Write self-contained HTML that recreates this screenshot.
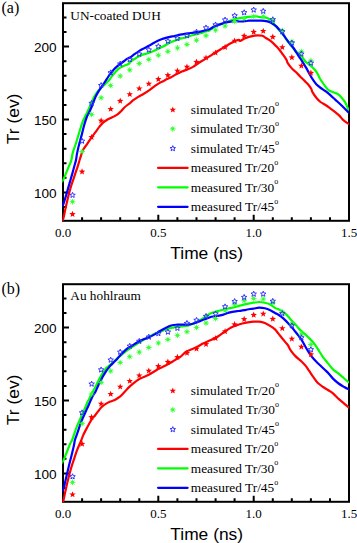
<!DOCTYPE html>
<html><head><meta charset="utf-8"><style>
html,body{margin:0;padding:0;background:#fff;}
svg{display:block;}
.se{font-family:"Liberation Serif",serif;fill:#000;}
.sa{font-family:"Liberation Sans",sans-serif;fill:#000;}
</style></head><body>
<svg width="357" height="543" viewBox="0 0 357 543">
<rect width="357" height="543" fill="#fff"/>
<rect x="63.0" y="3.2" width="286.0" height="217.60000000000002" fill="none" stroke="#000" stroke-width="2"/>
<path d="M63.0,207.0H66.5M63.0,192.4H69.0M63.0,177.8H66.5M63.0,163.2H66.5M63.0,148.7H66.5M63.0,134.1H66.5M63.0,119.5H69.0M63.0,104.9H66.5M63.0,90.3H66.5M63.0,75.8H66.5M63.0,61.2H66.5M63.0,46.6H69.0M63.0,32.0H66.5M63.0,17.4H66.5M82.1,220.8V217.3M101.1,220.8V217.3M120.2,220.8V217.3M139.3,220.8V217.3M158.3,220.8V214.8M177.4,220.8V217.3M196.5,220.8V217.3M215.6,220.8V217.3M234.6,220.8V217.3M253.7,220.8V214.8M272.8,220.8V217.3M291.8,220.8V217.3M310.9,220.8V217.3M330.0,220.8V217.3" stroke="#000" stroke-width="2" fill="none"/>
<clipPath id="c0"><rect x="62.2" y="3.2" width="286.8" height="217.90000000000003"/></clipPath>
<g clip-path="url(#c0)">
<path d="M62.00,221.00C62.23,220.55 62.88,220.08 63.40,218.30C63.92,216.52 64.52,212.97 65.10,210.30C65.68,207.63 66.23,205.17 66.90,202.30C67.57,199.43 68.35,195.97 69.10,193.10C69.85,190.23 70.63,187.57 71.40,185.10C72.17,182.63 72.93,180.58 73.70,178.30C74.47,176.02 75.27,173.60 76.00,171.40C76.73,169.20 77.42,167.25 78.10,165.10C78.78,162.95 79.30,160.97 80.10,158.50C80.90,156.03 81.68,152.78 82.90,150.30C84.12,147.82 85.90,145.83 87.40,143.60C88.90,141.37 90.55,138.80 91.90,136.90C93.25,135.00 94.33,133.78 95.50,132.20C96.67,130.62 97.68,128.95 98.90,127.40C100.12,125.85 101.48,124.13 102.80,122.90C104.12,121.67 105.48,120.82 106.80,120.00C108.12,119.18 109.40,118.65 110.70,118.00C112.00,117.35 113.30,116.83 114.60,116.10C115.90,115.37 117.35,114.50 118.50,113.60C119.65,112.70 120.52,111.71 121.50,110.70C122.48,109.69 123.42,108.47 124.40,107.52C125.38,106.57 126.47,105.72 127.40,105.00C128.33,104.28 129.13,103.92 130.00,103.20C130.87,102.48 131.23,101.75 132.60,100.70C133.97,99.65 136.33,98.05 138.20,96.90C140.07,95.75 141.93,94.94 143.80,93.81C145.67,92.68 147.53,91.42 149.40,90.10C151.27,88.78 153.13,87.18 155.00,85.90C156.87,84.62 158.83,83.42 160.60,82.40C162.37,81.38 163.93,80.62 165.60,79.80C167.27,78.98 168.83,78.42 170.60,77.50C172.37,76.58 174.33,75.30 176.20,74.30C178.07,73.30 179.93,72.32 181.80,71.50C183.67,70.68 185.53,70.17 187.40,69.40C189.27,68.63 191.13,67.95 193.00,66.90C194.87,65.85 196.73,64.32 198.60,63.10C200.47,61.88 202.33,60.77 204.20,59.60C206.07,58.43 208.00,57.27 209.80,56.10C211.60,54.93 213.23,53.70 215.00,52.60C216.77,51.50 218.33,50.75 220.40,49.50C222.47,48.25 225.30,46.35 227.40,45.10C229.50,43.85 231.13,42.87 233.00,42.00C234.87,41.13 237.43,40.08 238.60,39.90C239.77,39.72 239.02,41.12 240.00,40.90C240.98,40.68 243.00,39.27 244.50,38.60C246.00,37.93 247.52,37.37 249.00,36.90C250.48,36.43 251.92,36.07 253.40,35.80C254.88,35.53 256.40,35.30 257.90,35.30C259.40,35.30 261.05,35.35 262.40,35.80C263.75,36.25 264.95,37.35 266.00,38.00C267.05,38.65 267.80,39.08 268.70,39.70C269.60,40.32 270.50,40.97 271.40,41.70C272.30,42.43 273.20,43.25 274.10,44.10C275.00,44.95 275.92,45.85 276.80,46.80C277.68,47.75 278.52,48.68 279.40,49.80C280.28,50.92 281.20,52.27 282.10,53.50C283.00,54.73 284.02,56.02 284.80,57.20C285.58,58.38 286.33,59.67 286.80,60.60C287.27,61.53 286.77,61.50 287.60,62.80C288.43,64.10 290.57,66.98 291.80,68.40C293.03,69.82 293.90,70.27 295.00,71.30C296.10,72.33 297.28,73.48 298.40,74.60C299.52,75.72 300.58,76.87 301.70,78.00C302.82,79.13 303.98,80.28 305.10,81.40C306.22,82.52 307.38,83.48 308.40,84.70C309.42,85.92 310.52,87.47 311.20,88.70C311.88,89.93 311.62,90.55 312.50,92.10C313.38,93.65 315.17,96.35 316.50,98.00C317.83,99.65 319.00,100.83 320.50,102.00C322.00,103.17 323.88,103.95 325.50,105.00C327.12,106.05 328.58,107.12 330.20,108.30C331.82,109.48 333.63,110.83 335.20,112.10C336.77,113.37 338.33,114.65 339.60,115.90C340.87,117.15 341.43,118.35 342.80,119.60C344.17,120.85 346.60,122.58 347.80,123.40C349.00,124.22 349.63,124.32 350.00,124.50" fill="none" stroke="#ff0000" stroke-width="2.2" stroke-linejoin="round" stroke-linecap="round"/>
<path d="M62.00,181.50C62.23,181.15 62.68,180.88 63.40,179.40C64.12,177.92 65.43,174.68 66.30,172.60C67.17,170.52 68.07,168.17 68.60,166.90C69.13,165.63 69.03,166.15 69.50,165.00C69.97,163.85 70.85,162.07 71.40,160.00C71.95,157.93 72.00,155.52 72.80,152.60C73.60,149.68 75.07,146.05 76.20,142.50C77.33,138.95 78.48,134.85 79.60,131.30C80.72,127.75 81.77,124.08 82.90,121.20C84.03,118.32 85.23,116.45 86.40,114.00C87.57,111.55 88.67,109.27 89.90,106.50C91.13,103.73 92.50,99.90 93.80,97.40C95.10,94.90 96.50,93.07 97.70,91.50C98.90,89.93 99.85,89.15 101.00,88.00C102.15,86.85 103.23,85.93 104.60,84.60C105.97,83.27 107.87,81.57 109.20,80.00C110.53,78.43 111.48,76.63 112.60,75.20C113.72,73.77 114.78,72.58 115.90,71.40C117.02,70.22 118.18,68.93 119.30,68.10C120.42,67.27 121.48,66.90 122.60,66.40C123.72,65.90 124.87,65.60 126.00,65.10C127.13,64.60 128.73,63.92 129.40,63.40C130.07,62.88 129.15,62.73 130.00,62.00C130.85,61.27 133.00,60.00 134.50,59.05C136.00,58.10 137.52,57.07 139.00,56.30C140.48,55.52 141.92,54.90 143.40,54.40C144.88,53.90 146.40,53.78 147.90,53.30C149.40,52.82 150.90,52.12 152.40,51.50C153.90,50.88 155.40,50.30 156.90,49.60C158.40,48.90 159.90,48.06 161.40,47.30C162.90,46.53 164.47,45.81 165.90,45.01C167.33,44.21 168.57,43.20 170.00,42.50C171.43,41.80 173.00,41.37 174.50,40.80C176.00,40.23 177.52,39.57 179.00,39.10C180.48,38.63 181.92,38.40 183.40,38.00C184.88,37.60 186.40,37.17 187.90,36.70C189.40,36.23 190.90,35.63 192.40,35.20C193.90,34.77 195.40,34.47 196.90,34.10C198.40,33.73 200.00,33.43 201.40,33.00C202.80,32.57 203.95,31.93 205.30,31.50C206.65,31.07 208.05,31.08 209.50,30.40C210.95,29.72 212.52,28.27 214.00,27.40C215.48,26.53 216.92,25.85 218.40,25.20C219.88,24.55 221.40,24.07 222.90,23.50C224.40,22.93 225.90,22.37 227.40,21.80C228.90,21.23 230.40,20.60 231.90,20.10C233.40,19.60 235.05,19.12 236.40,18.80C237.75,18.48 238.65,18.45 240.00,18.20C241.35,17.95 243.00,17.53 244.50,17.30C246.00,17.07 247.52,16.93 249.00,16.80C250.48,16.67 251.92,16.55 253.40,16.50C254.88,16.45 257.13,16.45 257.90,16.50C258.67,16.55 257.47,16.68 258.00,16.80C258.53,16.92 260.05,17.08 261.10,17.20C262.15,17.32 263.38,17.40 264.30,17.50C265.22,17.60 265.82,17.55 266.60,17.80C267.38,18.05 268.22,18.53 269.00,19.00C269.78,19.47 270.65,20.07 271.30,20.60C271.95,21.13 272.37,21.55 272.90,22.20C273.43,22.85 273.82,23.62 274.50,24.50C275.18,25.38 276.08,26.42 277.00,27.50C277.92,28.58 278.93,29.72 280.00,31.00C281.07,32.28 282.27,33.68 283.40,35.20C284.53,36.72 285.67,38.53 286.80,40.10C287.93,41.67 289.08,43.20 290.20,44.60C291.32,46.00 292.38,47.22 293.50,48.50C294.62,49.78 295.93,51.32 296.90,52.30C297.87,53.28 298.50,53.72 299.30,54.40C300.10,55.08 300.73,55.27 301.70,56.40C302.67,57.53 303.98,59.93 305.10,61.20C306.22,62.47 307.28,63.07 308.40,64.00C309.52,64.93 310.67,65.77 311.80,66.80C312.93,67.83 314.27,69.08 315.20,70.20C316.13,71.32 316.67,72.20 317.40,73.50C318.13,74.80 318.75,76.50 319.60,78.00C320.45,79.50 321.55,81.10 322.50,82.50C323.45,83.90 324.37,85.18 325.30,86.40C326.23,87.62 326.78,88.83 328.10,89.80C329.42,90.77 331.58,91.50 333.20,92.20C334.82,92.90 336.38,93.08 337.80,94.00C339.22,94.92 340.45,96.27 341.70,97.70C342.95,99.13 344.28,100.83 345.30,102.60C346.32,104.37 347.10,106.90 347.80,108.30C348.50,109.70 349.22,110.55 349.50,111.00" fill="none" stroke="#00ff00" stroke-width="2.2" stroke-linejoin="round" stroke-linecap="round"/>
<path d="M62.00,206.00C62.23,205.67 62.78,205.57 63.40,204.00C64.02,202.43 64.93,199.17 65.70,196.60C66.47,194.03 67.23,191.27 68.00,188.60C68.77,185.93 69.53,183.27 70.30,180.60C71.07,177.93 71.93,174.98 72.60,172.60C73.27,170.22 73.73,168.40 74.30,166.30C74.87,164.20 75.52,162.28 76.00,160.00C76.48,157.72 76.60,155.52 77.20,152.60C77.80,149.68 78.83,145.50 79.60,142.50C80.37,139.50 81.07,137.40 81.80,134.60C82.53,131.80 83.17,128.63 84.00,125.70C84.83,122.77 86.03,119.03 86.80,117.00C87.57,114.97 87.75,115.30 88.60,113.50C89.45,111.70 90.70,109.05 91.90,106.20C93.10,103.35 94.50,99.17 95.80,96.40C97.10,93.63 98.23,91.93 99.70,89.58C101.17,87.23 103.43,84.03 104.60,82.30C105.77,80.57 105.80,80.57 106.70,79.20C107.60,77.83 108.88,75.65 110.00,74.10C111.12,72.55 112.27,71.15 113.40,69.90C114.53,68.65 115.68,67.58 116.80,66.60C117.92,65.62 118.98,64.85 120.10,64.00C121.22,63.15 122.38,62.33 123.50,61.50C124.62,60.67 125.72,59.67 126.80,59.00C127.88,58.33 128.72,58.30 130.00,57.50C131.28,56.70 133.00,55.27 134.50,54.20C136.00,53.13 137.52,52.03 139.00,51.10C140.48,50.17 141.92,49.40 143.40,48.60C144.88,47.80 146.40,47.10 147.90,46.30C149.40,45.50 150.90,44.66 152.40,43.81C153.90,42.96 155.40,41.95 156.90,41.20C158.40,40.45 159.90,39.85 161.40,39.30C162.90,38.75 164.47,38.30 165.90,37.90C167.33,37.50 168.57,37.22 170.00,36.90C171.43,36.58 173.00,36.33 174.50,36.00C176.00,35.67 177.52,35.22 179.00,34.90C180.48,34.58 181.92,34.37 183.40,34.10C184.88,33.83 186.40,33.52 187.90,33.30C189.40,33.08 190.90,32.98 192.40,32.80C193.90,32.62 195.40,32.43 196.90,32.20C198.40,31.97 199.90,31.72 201.40,31.40C202.90,31.08 204.47,30.70 205.90,30.30C207.33,29.90 208.65,29.62 210.00,29.00C211.35,28.38 212.60,27.30 214.00,26.60C215.40,25.90 216.92,25.34 218.40,24.80C219.88,24.27 221.40,23.84 222.90,23.39C224.40,22.94 225.90,22.39 227.40,22.07C228.90,21.75 230.40,21.66 231.90,21.50C233.40,21.34 235.05,21.10 236.40,21.10C237.75,21.10 238.65,21.48 240.00,21.50C241.35,21.52 243.00,21.33 244.50,21.20C246.00,21.07 247.52,20.78 249.00,20.70C250.48,20.62 251.92,20.70 253.40,20.70C254.88,20.70 257.13,20.72 257.90,20.70C258.67,20.68 257.47,20.62 258.00,20.60C258.53,20.58 260.05,20.57 261.10,20.60C262.15,20.63 263.25,20.67 264.30,20.80C265.35,20.93 266.37,21.12 267.40,21.40C268.43,21.68 269.45,21.98 270.50,22.50C271.55,23.02 272.65,23.77 273.70,24.50C274.75,25.23 275.75,25.90 276.80,26.90C277.85,27.90 278.92,29.22 280.00,30.50C281.08,31.78 282.17,33.08 283.30,34.60C284.43,36.12 285.65,38.02 286.80,39.60C287.95,41.18 289.08,42.70 290.20,44.10C291.32,45.50 292.52,46.65 293.50,48.00C294.48,49.35 295.10,50.65 296.10,52.20C297.10,53.75 298.38,55.62 299.50,57.30C300.62,58.98 301.68,60.53 302.80,62.30C303.92,64.07 305.07,65.93 306.20,67.90C307.33,69.87 308.48,72.13 309.60,74.10C310.72,76.07 311.78,78.02 312.90,79.70C314.02,81.38 314.98,82.82 316.30,84.20C317.62,85.58 319.30,86.87 320.80,88.00C322.30,89.13 324.03,90.10 325.30,91.00C326.57,91.90 326.75,91.97 328.40,93.40C330.05,94.83 332.95,97.53 335.20,99.60C337.45,101.67 339.77,103.75 341.90,105.80C344.03,107.85 346.65,110.60 348.00,111.90C349.35,113.20 349.67,113.32 350.00,113.60" fill="none" stroke="#0000ff" stroke-width="2.2" stroke-linejoin="round" stroke-linecap="round"/>
<polygon points="72.53,210.80 73.39,213.03 75.77,213.15 73.91,214.65 74.53,216.95 72.53,215.65 70.54,216.95 71.16,214.65 69.30,213.15 71.68,213.03" fill="#ff0000"/>
<polygon points="82.07,168.30 82.92,170.53 85.30,170.65 83.45,172.15 84.07,174.45 82.07,173.15 80.07,174.45 80.69,172.15 78.84,170.65 81.22,170.53" fill="#ff0000"/>
<polygon points="91.61,133.80 92.46,136.03 94.84,136.15 92.98,137.65 93.60,139.95 91.61,138.65 89.61,139.95 90.23,137.65 88.37,136.15 90.75,136.03" fill="#ff0000"/>
<polygon points="101.14,117.30 101.99,119.53 104.37,119.65 102.52,121.15 103.14,123.45 101.14,122.15 99.14,123.45 99.76,121.15 97.91,119.65 100.29,119.53" fill="#ff0000"/>
<polygon points="110.67,105.70 111.53,107.93 113.91,108.05 112.05,109.55 112.67,111.85 110.67,110.55 108.68,111.85 109.30,109.55 107.44,108.05 109.82,107.93" fill="#ff0000"/>
<polygon points="120.21,97.60 121.06,99.83 123.44,99.95 121.59,101.45 122.21,103.75 120.21,102.45 118.21,103.75 118.83,101.45 116.98,99.95 119.36,99.83" fill="#ff0000"/>
<polygon points="129.75,90.90 130.60,93.13 132.98,93.25 131.12,94.75 131.74,97.05 129.75,95.75 127.75,97.05 128.37,94.75 126.51,93.25 128.89,93.13" fill="#ff0000"/>
<polygon points="139.28,85.20 140.13,87.43 142.51,87.55 140.66,89.05 141.28,91.35 139.28,90.05 137.28,91.35 137.90,89.05 136.05,87.55 138.43,87.43" fill="#ff0000"/>
<polygon points="148.81,80.40 149.67,82.63 152.05,82.75 150.19,84.25 150.81,86.55 148.81,85.25 146.82,86.55 147.44,84.25 145.58,82.75 147.96,82.63" fill="#ff0000"/>
<polygon points="158.35,75.80 159.20,78.03 161.58,78.15 159.73,79.65 160.35,81.95 158.35,80.65 156.35,81.95 156.97,79.65 155.12,78.15 157.50,78.03" fill="#ff0000"/>
<polygon points="167.88,71.80 168.74,74.03 171.12,74.15 169.26,75.65 169.88,77.95 167.88,76.65 165.89,77.95 166.51,75.65 164.65,74.15 167.03,74.03" fill="#ff0000"/>
<polygon points="177.42,67.40 178.27,69.63 180.65,69.75 178.80,71.25 179.42,73.55 177.42,72.25 175.42,73.55 176.04,71.25 174.19,69.75 176.57,69.63" fill="#ff0000"/>
<polygon points="186.95,63.50 187.81,65.73 190.19,65.85 188.33,67.35 188.95,69.65 186.95,68.35 184.96,69.65 185.58,67.35 183.72,65.85 186.10,65.73" fill="#ff0000"/>
<polygon points="196.49,58.60 197.34,60.83 199.72,60.95 197.87,62.45 198.49,64.75 196.49,63.45 194.49,64.75 195.11,62.45 193.26,60.95 195.64,60.83" fill="#ff0000"/>
<polygon points="206.02,54.40 206.88,56.63 209.26,56.75 207.40,58.25 208.02,60.55 206.02,59.25 204.03,60.55 204.65,58.25 202.79,56.75 205.17,56.63" fill="#ff0000"/>
<polygon points="215.56,49.40 216.41,51.63 218.79,51.75 216.94,53.25 217.56,55.55 215.56,54.25 213.56,55.55 214.18,53.25 212.33,51.75 214.71,51.63" fill="#ff0000"/>
<polygon points="225.09,43.80 225.95,46.03 228.33,46.15 226.47,47.65 227.09,49.95 225.09,48.65 223.10,49.95 223.72,47.65 221.86,46.15 224.24,46.03" fill="#ff0000"/>
<polygon points="234.63,37.50 235.48,39.73 237.86,39.85 236.01,41.35 236.63,43.65 234.63,42.35 232.63,43.65 233.25,41.35 231.40,39.85 233.78,39.73" fill="#ff0000"/>
<polygon points="244.16,32.60 245.02,34.83 247.40,34.95 245.54,36.45 246.16,38.75 244.16,37.45 242.17,38.75 242.79,36.45 240.93,34.95 243.31,34.83" fill="#ff0000"/>
<polygon points="253.70,28.60 254.55,30.83 256.93,30.95 255.08,32.45 255.70,34.75 253.70,33.45 251.70,34.75 252.32,32.45 250.47,30.95 252.85,30.83" fill="#ff0000"/>
<polygon points="263.24,27.70 264.09,29.93 266.47,30.05 264.61,31.55 265.23,33.85 263.24,32.55 261.24,33.85 261.86,31.55 260.00,30.05 262.38,29.93" fill="#ff0000"/>
<polygon points="272.77,33.60 273.62,35.83 276.00,35.95 274.15,37.45 274.77,39.75 272.77,38.45 270.77,39.75 271.39,37.45 269.54,35.95 271.92,35.83" fill="#ff0000"/>
<polygon points="282.31,43.90 283.16,46.13 285.54,46.25 283.68,47.75 284.30,50.05 282.31,48.75 280.31,50.05 280.93,47.75 279.07,46.25 281.45,46.13" fill="#ff0000"/>
<polygon points="291.84,54.10 292.69,56.33 295.07,56.45 293.22,57.95 293.84,60.25 291.84,58.95 289.84,60.25 290.46,57.95 288.61,56.45 290.99,56.33" fill="#ff0000"/>
<polygon points="301.38,62.50 302.23,64.73 304.61,64.85 302.75,66.35 303.37,68.65 301.38,67.35 299.38,68.65 300.00,66.35 298.14,64.85 300.52,64.73" fill="#ff0000"/>
<polygon points="310.91,69.60 311.76,71.83 314.14,71.95 312.29,73.45 312.91,75.75 310.91,74.45 308.91,75.75 309.53,73.45 307.68,71.95 310.06,71.83" fill="#ff0000"/>
<path d="M69.63,201.70L75.44,201.70M70.48,199.65L74.59,203.75M72.53,198.80L72.53,204.60M74.59,199.65L70.48,203.75" stroke="#33ff33" stroke-width="0.8" fill="none"/><circle cx="72.53" cy="201.70" r="1.5" fill="#33ff33"/>
<path d="M79.17,151.50L84.97,151.50M80.02,149.45L84.12,153.55M82.07,148.60L82.07,154.40M84.12,149.45L80.02,153.55" stroke="#33ff33" stroke-width="0.8" fill="none"/><circle cx="82.07" cy="151.50" r="1.5" fill="#33ff33"/>
<path d="M88.70,114.50L94.51,114.50M89.55,112.45L93.66,116.55M91.61,111.60L91.61,117.40M93.66,112.45L89.55,116.55" stroke="#33ff33" stroke-width="0.8" fill="none"/><circle cx="91.61" cy="114.50" r="1.5" fill="#33ff33"/>
<path d="M98.24,97.80L104.04,97.80M99.09,95.75L103.19,99.85M101.14,94.90L101.14,100.70M103.19,95.75L99.09,99.85" stroke="#33ff33" stroke-width="0.8" fill="none"/><circle cx="101.14" cy="97.80" r="1.5" fill="#33ff33"/>
<path d="M107.77,85.60L113.58,85.60M108.62,83.55L112.73,87.65M110.67,82.70L110.67,88.50M112.73,83.55L108.62,87.65" stroke="#33ff33" stroke-width="0.8" fill="none"/><circle cx="110.67" cy="85.60" r="1.5" fill="#33ff33"/>
<path d="M117.31,76.00L123.11,76.00M118.16,73.95L122.26,78.05M120.21,73.10L120.21,78.90M122.26,73.95L118.16,78.05" stroke="#33ff33" stroke-width="0.8" fill="none"/><circle cx="120.21" cy="76.00" r="1.5" fill="#33ff33"/>
<path d="M126.84,69.90L132.65,69.90M127.69,67.85L131.80,71.95M129.75,67.00L129.75,72.80M131.80,67.85L127.69,71.95" stroke="#33ff33" stroke-width="0.8" fill="none"/><circle cx="129.75" cy="69.90" r="1.5" fill="#33ff33"/>
<path d="M136.38,63.60L142.18,63.60M137.23,61.55L141.33,65.65M139.28,60.70L139.28,66.50M141.33,61.55L137.23,65.65" stroke="#33ff33" stroke-width="0.8" fill="none"/><circle cx="139.28" cy="63.60" r="1.5" fill="#33ff33"/>
<path d="M145.91,59.40L151.72,59.40M146.76,57.35L150.87,61.45M148.81,56.50L148.81,62.30M150.87,57.35L146.76,61.45" stroke="#33ff33" stroke-width="0.8" fill="none"/><circle cx="148.81" cy="59.40" r="1.5" fill="#33ff33"/>
<path d="M155.45,55.20L161.25,55.20M156.30,53.15L160.40,57.25M158.35,52.30L158.35,58.10M160.40,53.15L156.30,57.25" stroke="#33ff33" stroke-width="0.8" fill="none"/><circle cx="158.35" cy="55.20" r="1.5" fill="#33ff33"/>
<path d="M164.98,51.40L170.78,51.40M165.83,49.35L169.94,53.45M167.88,48.50L167.88,54.30M169.94,49.35L165.83,53.45" stroke="#33ff33" stroke-width="0.8" fill="none"/><circle cx="167.88" cy="51.40" r="1.5" fill="#33ff33"/>
<path d="M174.52,47.90L180.32,47.90M175.37,45.85L179.47,49.95M177.42,45.00L177.42,50.80M179.47,45.85L175.37,49.95" stroke="#33ff33" stroke-width="0.8" fill="none"/><circle cx="177.42" cy="47.90" r="1.5" fill="#33ff33"/>
<path d="M184.05,44.40L189.85,44.40M184.90,42.35L189.01,46.45M186.95,41.50L186.95,47.30M189.01,42.35L184.90,46.45" stroke="#33ff33" stroke-width="0.8" fill="none"/><circle cx="186.95" cy="44.40" r="1.5" fill="#33ff33"/>
<path d="M193.59,40.20L199.39,40.20M194.44,38.15L198.54,42.25M196.49,37.30L196.49,43.10M198.54,38.15L194.44,42.25" stroke="#33ff33" stroke-width="0.8" fill="none"/><circle cx="196.49" cy="40.20" r="1.5" fill="#33ff33"/>
<path d="M203.12,35.70L208.92,35.70M203.97,33.65L208.08,37.75M206.02,32.80L206.02,38.60M208.08,33.65L203.97,37.75" stroke="#33ff33" stroke-width="0.8" fill="none"/><circle cx="206.02" cy="35.70" r="1.5" fill="#33ff33"/>
<path d="M212.66,30.10L218.46,30.10M213.51,28.05L217.61,32.15M215.56,27.20L215.56,33.00M217.61,28.05L213.51,32.15" stroke="#33ff33" stroke-width="0.8" fill="none"/><circle cx="215.56" cy="30.10" r="1.5" fill="#33ff33"/>
<path d="M222.19,25.90L228.00,25.90M223.04,23.85L227.15,27.95M225.09,23.00L225.09,28.80M227.15,23.85L223.04,27.95" stroke="#33ff33" stroke-width="0.8" fill="none"/><circle cx="225.09" cy="25.90" r="1.5" fill="#33ff33"/>
<path d="M231.73,21.50L237.53,21.50M232.58,19.45L236.68,23.55M234.63,18.60L234.63,24.40M236.68,19.45L232.58,23.55" stroke="#33ff33" stroke-width="0.8" fill="none"/><circle cx="234.63" cy="21.50" r="1.5" fill="#33ff33"/>
<path d="M241.26,18.50L247.06,18.50M242.11,16.45L246.22,20.55M244.16,15.60L244.16,21.40M246.22,16.45L242.11,20.55" stroke="#33ff33" stroke-width="0.8" fill="none"/><circle cx="244.16" cy="18.50" r="1.5" fill="#33ff33"/>
<path d="M250.80,16.50L256.60,16.50M251.65,14.45L255.75,18.55M253.70,13.60L253.70,19.40M255.75,14.45L251.65,18.55" stroke="#33ff33" stroke-width="0.8" fill="none"/><circle cx="253.70" cy="16.50" r="1.5" fill="#33ff33"/>
<path d="M260.34,16.50L266.13,16.50M261.18,14.45L265.29,18.55M263.24,13.60L263.24,19.40M265.29,14.45L261.18,18.55" stroke="#33ff33" stroke-width="0.8" fill="none"/><circle cx="263.24" cy="16.50" r="1.5" fill="#33ff33"/>
<path d="M269.87,20.50L275.67,20.50M270.72,18.45L274.82,22.55M272.77,17.60L272.77,23.40M274.82,18.45L270.72,22.55" stroke="#33ff33" stroke-width="0.8" fill="none"/><circle cx="272.77" cy="20.50" r="1.5" fill="#33ff33"/>
<path d="M279.41,30.60L285.20,30.60M280.25,28.55L284.36,32.65M282.31,27.70L282.31,33.50M284.36,28.55L280.25,32.65" stroke="#33ff33" stroke-width="0.8" fill="none"/><circle cx="282.31" cy="30.60" r="1.5" fill="#33ff33"/>
<path d="M288.94,41.50L294.74,41.50M289.79,39.45L293.89,43.55M291.84,38.60L291.84,44.40M293.89,39.45L289.79,43.55" stroke="#33ff33" stroke-width="0.8" fill="none"/><circle cx="291.84" cy="41.50" r="1.5" fill="#33ff33"/>
<path d="M298.48,51.60L304.27,51.60M299.32,49.55L303.43,53.65M301.38,48.70L301.38,54.50M303.43,49.55L299.32,53.65" stroke="#33ff33" stroke-width="0.8" fill="none"/><circle cx="301.38" cy="51.60" r="1.5" fill="#33ff33"/>
<path d="M308.01,60.70L313.81,60.70M308.86,58.65L312.96,62.75M310.91,57.80L310.91,63.60M312.96,58.65L308.86,62.75" stroke="#33ff33" stroke-width="0.8" fill="none"/><circle cx="310.91" cy="60.70" r="1.5" fill="#33ff33"/>
<polygon points="72.53,192.35 73.27,194.19 75.25,194.32 73.72,195.59 74.21,197.51 72.53,196.45 70.86,197.51 71.35,195.59 69.82,194.32 71.80,194.19" fill="none" stroke="#3333ff" stroke-width="1.0" stroke-linejoin="miter"/>
<polygon points="82.07,138.25 82.80,140.09 84.78,140.22 83.26,141.49 83.75,143.41 82.07,142.35 80.39,143.41 80.88,141.49 79.36,140.22 81.34,140.09" fill="none" stroke="#3333ff" stroke-width="1.0" stroke-linejoin="miter"/>
<polygon points="91.61,100.45 92.34,102.29 94.32,102.42 92.79,103.69 93.28,105.61 91.61,104.55 89.93,105.61 90.42,103.69 88.89,102.42 90.87,102.29" fill="none" stroke="#3333ff" stroke-width="1.0" stroke-linejoin="miter"/>
<polygon points="101.14,82.55 101.87,84.39 103.85,84.52 102.33,85.79 102.82,87.71 101.14,86.65 99.46,87.71 99.95,85.79 98.43,84.52 100.41,84.39" fill="none" stroke="#3333ff" stroke-width="1.0" stroke-linejoin="miter"/>
<polygon points="110.67,69.85 111.41,71.69 113.39,71.82 111.86,73.09 112.35,75.01 110.67,73.95 109.00,75.01 109.49,73.09 107.96,71.82 109.94,71.69" fill="none" stroke="#3333ff" stroke-width="1.0" stroke-linejoin="miter"/>
<polygon points="120.21,61.05 120.94,62.89 122.92,63.02 121.40,64.29 121.89,66.21 120.21,65.15 118.53,66.21 119.02,64.29 117.50,63.02 119.48,62.89" fill="none" stroke="#3333ff" stroke-width="1.0" stroke-linejoin="miter"/>
<polygon points="129.75,56.85 130.48,58.69 132.46,58.82 130.93,60.09 131.42,62.01 129.75,60.95 128.07,62.01 128.56,60.09 127.03,58.82 129.01,58.69" fill="none" stroke="#3333ff" stroke-width="1.0" stroke-linejoin="miter"/>
<polygon points="139.28,51.25 140.01,53.09 141.99,53.22 140.47,54.49 140.96,56.41 139.28,55.35 137.60,56.41 138.09,54.49 136.57,53.22 138.55,53.09" fill="none" stroke="#3333ff" stroke-width="1.0" stroke-linejoin="miter"/>
<polygon points="148.81,47.05 149.55,48.89 151.53,49.02 150.00,50.29 150.49,52.21 148.81,51.15 147.14,52.21 147.63,50.29 146.10,49.02 148.08,48.89" fill="none" stroke="#3333ff" stroke-width="1.0" stroke-linejoin="miter"/>
<polygon points="158.35,43.55 159.08,45.39 161.06,45.52 159.54,46.79 160.03,48.71 158.35,47.65 156.67,48.71 157.16,46.79 155.64,45.52 157.62,45.39" fill="none" stroke="#3333ff" stroke-width="1.0" stroke-linejoin="miter"/>
<polygon points="167.88,38.35 168.62,40.19 170.60,40.32 169.07,41.59 169.56,43.51 167.88,42.45 166.21,43.51 166.70,41.59 165.17,40.32 167.15,40.19" fill="none" stroke="#3333ff" stroke-width="1.0" stroke-linejoin="miter"/>
<polygon points="177.42,35.55 178.15,37.39 180.13,37.52 178.61,38.79 179.10,40.71 177.42,39.65 175.74,40.71 176.23,38.79 174.71,37.52 176.69,37.39" fill="none" stroke="#3333ff" stroke-width="1.0" stroke-linejoin="miter"/>
<polygon points="186.95,32.75 187.69,34.59 189.67,34.72 188.14,35.99 188.63,37.91 186.95,36.85 185.28,37.91 185.77,35.99 184.24,34.72 186.22,34.59" fill="none" stroke="#3333ff" stroke-width="1.0" stroke-linejoin="miter"/>
<polygon points="196.49,29.25 197.22,31.09 199.20,31.22 197.68,32.49 198.17,34.41 196.49,33.35 194.81,34.41 195.30,32.49 193.78,31.22 195.76,31.09" fill="none" stroke="#3333ff" stroke-width="1.0" stroke-linejoin="miter"/>
<polygon points="206.02,24.95 206.76,26.79 208.74,26.92 207.21,28.19 207.70,30.11 206.02,29.05 204.35,30.11 204.84,28.19 203.31,26.92 205.29,26.79" fill="none" stroke="#3333ff" stroke-width="1.0" stroke-linejoin="miter"/>
<polygon points="215.56,21.95 216.29,23.79 218.27,23.92 216.75,25.19 217.24,27.11 215.56,26.05 213.88,27.11 214.37,25.19 212.85,23.92 214.83,23.79" fill="none" stroke="#3333ff" stroke-width="1.0" stroke-linejoin="miter"/>
<polygon points="225.09,17.05 225.83,18.89 227.81,19.02 226.28,20.29 226.77,22.21 225.09,21.15 223.42,22.21 223.91,20.29 222.38,19.02 224.36,18.89" fill="none" stroke="#3333ff" stroke-width="1.0" stroke-linejoin="miter"/>
<polygon points="234.63,12.85 235.36,14.69 237.34,14.82 235.82,16.09 236.31,18.01 234.63,16.95 232.95,18.01 233.44,16.09 231.92,14.82 233.90,14.69" fill="none" stroke="#3333ff" stroke-width="1.0" stroke-linejoin="miter"/>
<polygon points="244.16,9.75 244.90,11.59 246.88,11.72 245.35,12.99 245.84,14.91 244.16,13.85 242.49,14.91 242.98,12.99 241.45,11.72 243.43,11.59" fill="none" stroke="#3333ff" stroke-width="1.0" stroke-linejoin="miter"/>
<polygon points="253.70,7.05 254.43,8.89 256.41,9.02 254.89,10.29 255.38,12.21 253.70,11.15 252.02,12.21 252.51,10.29 250.99,9.02 252.97,8.89" fill="none" stroke="#3333ff" stroke-width="1.0" stroke-linejoin="miter"/>
<polygon points="263.24,8.35 263.97,10.19 265.95,10.32 264.42,11.59 264.91,13.51 263.24,12.45 261.56,13.51 262.05,11.59 260.52,10.32 262.50,10.19" fill="none" stroke="#3333ff" stroke-width="1.0" stroke-linejoin="miter"/>
<polygon points="272.77,16.75 273.50,18.59 275.48,18.72 273.96,19.99 274.45,21.91 272.77,20.85 271.09,21.91 271.58,19.99 270.06,18.72 272.04,18.59" fill="none" stroke="#3333ff" stroke-width="1.0" stroke-linejoin="miter"/>
<polygon points="282.31,28.85 283.04,30.69 285.02,30.82 283.49,32.09 283.98,34.01 282.31,32.95 280.63,34.01 281.12,32.09 279.59,30.82 281.57,30.69" fill="none" stroke="#3333ff" stroke-width="1.0" stroke-linejoin="miter"/>
<polygon points="291.84,40.05 292.57,41.89 294.55,42.02 293.03,43.29 293.52,45.21 291.84,44.15 290.16,45.21 290.65,43.29 289.13,42.02 291.11,41.89" fill="none" stroke="#3333ff" stroke-width="1.0" stroke-linejoin="miter"/>
<polygon points="301.38,51.15 302.11,52.99 304.09,53.12 302.56,54.39 303.05,56.31 301.38,55.25 299.70,56.31 300.19,54.39 298.66,53.12 300.64,52.99" fill="none" stroke="#3333ff" stroke-width="1.0" stroke-linejoin="miter"/>
<polygon points="310.91,60.25 311.64,62.09 313.62,62.22 312.10,63.49 312.59,65.41 310.91,64.35 309.23,65.41 309.72,63.49 308.20,62.22 310.18,62.09" fill="none" stroke="#3333ff" stroke-width="1.0" stroke-linejoin="miter"/>
</g>
<text x="56.6" y="51.8" text-anchor="end" class="sa" font-size="13.6">200</text>
<text x="56.6" y="124.7" text-anchor="end" class="sa" font-size="13.6">150</text>
<text x="56.6" y="197.6" text-anchor="end" class="sa" font-size="13.6">100</text>
<text x="63.0" y="237.0" text-anchor="middle" class="se" font-size="13">0.0</text>
<text x="158.3" y="237.0" text-anchor="middle" class="se" font-size="13">0.5</text>
<text x="253.7" y="237.0" text-anchor="middle" class="se" font-size="13">1.0</text>
<text x="349.0" y="237.0" text-anchor="middle" class="se" font-size="13">1.5</text>
<text x="170.3" y="258.6" class="sa" font-size="17.4">Time (ns)</text>
<text transform="translate(19.4,118.9) rotate(-90)" text-anchor="middle" class="sa" font-size="17.4">Tr (ev)</text>
<text x="1.5" y="12.8" class="se" font-size="16">(a)</text>
<text x="70.3" y="19.7" class="se" font-size="13.3">UN-coated DUH</text>
<polygon points="172.80,106.40 173.65,108.63 176.03,108.75 174.18,110.25 174.80,112.55 172.80,111.25 170.80,112.55 171.42,110.25 169.57,108.75 171.95,108.63" fill="#ff0000"/>
<text x="190.8" y="113.8" class="se" font-size="13.35">simulated Tr/20<tspan font-size="8" dy="-7.4">o</tspan></text>
<path d="M169.90,128.85L175.70,128.85M170.75,126.80L174.85,130.90M172.80,125.95L172.80,131.75M174.85,126.80L170.75,130.90" stroke="#33ff33" stroke-width="0.8" fill="none"/><circle cx="172.80" cy="128.85" r="1.5" fill="#33ff33"/>
<text x="190.8" y="133.2" class="se" font-size="13.35">simulated Tr/30<tspan font-size="8" dy="-7.4">o</tspan></text>
<polygon points="172.80,145.65 173.53,147.49 175.51,147.62 173.99,148.89 174.48,150.81 172.80,149.75 171.12,150.81 171.61,148.89 170.09,147.62 172.07,147.49" fill="none" stroke="#3333ff" stroke-width="1.0" stroke-linejoin="miter"/>
<text x="190.8" y="152.7" class="se" font-size="13.35">simulated Tr/45<tspan font-size="8" dy="-7.4">o</tspan></text>
<path d="M158.1,167.9H187.6" stroke="#ff0000" stroke-width="2.2" stroke-linecap="round"/>
<text x="190.8" y="172.1" class="se" font-size="13.35">measured Tr/20<tspan font-size="8" dy="-7.4">o</tspan></text>
<path d="M158.1,187.3H187.6" stroke="#00ff00" stroke-width="2.2" stroke-linecap="round"/>
<text x="190.8" y="191.6" class="se" font-size="13.35">measured Tr/30<tspan font-size="8" dy="-7.4">o</tspan></text>
<path d="M158.1,206.8H187.6" stroke="#0000ff" stroke-width="2.2" stroke-linecap="round"/>
<text x="190.8" y="211.1" class="se" font-size="13.35">measured Tr/45<tspan font-size="8" dy="-7.4">o</tspan></text>
<rect x="63.0" y="284.2" width="286.0" height="217.60000000000002" fill="none" stroke="#000" stroke-width="2"/>
<path d="M63.0,488.0H66.5M63.0,473.4H69.0M63.0,458.8H66.5M63.0,444.2H66.5M63.0,429.7H66.5M63.0,415.1H66.5M63.0,400.5H69.0M63.0,385.9H66.5M63.0,371.3H66.5M63.0,356.8H66.5M63.0,342.2H66.5M63.0,327.6H69.0M63.0,313.0H66.5M63.0,298.4H66.5M82.1,501.8V498.3M101.1,501.8V498.3M120.2,501.8V498.3M139.3,501.8V498.3M158.3,501.8V495.8M177.4,501.8V498.3M196.5,501.8V498.3M215.6,501.8V498.3M234.6,501.8V498.3M253.7,501.8V495.8M272.8,501.8V498.3M291.8,501.8V498.3M310.9,501.8V498.3M330.0,501.8V498.3" stroke="#000" stroke-width="2" fill="none"/>
<clipPath id="c281"><rect x="62.2" y="284.2" width="286.8" height="217.90000000000003"/></clipPath>
<g clip-path="url(#c281)">
<path d="M62.00,503.00C62.23,502.60 62.88,502.33 63.40,500.60C63.92,498.87 64.43,495.65 65.10,492.60C65.77,489.55 66.63,485.55 67.40,482.30C68.17,479.05 68.93,475.97 69.70,473.10C70.47,470.23 71.23,467.57 72.00,465.10C72.77,462.63 73.53,460.58 74.30,458.30C75.07,456.02 75.82,453.53 76.60,451.40C77.38,449.27 78.23,447.32 79.00,445.50C79.77,443.68 80.45,442.33 81.20,440.50C81.95,438.67 82.47,436.75 83.50,434.50C84.53,432.25 86.00,429.57 87.40,427.00C88.80,424.43 90.63,421.02 91.90,419.10C93.17,417.18 93.92,416.85 95.00,415.50C96.08,414.15 97.28,412.42 98.40,411.00C99.52,409.58 100.40,408.23 101.70,407.00C103.00,405.77 104.70,404.53 106.20,403.60C107.70,402.67 109.20,402.05 110.70,401.40C112.20,400.75 113.72,400.45 115.20,399.70C116.68,398.95 118.12,398.12 119.60,396.90C121.08,395.68 122.48,394.08 124.10,392.40C125.72,390.72 127.65,388.44 129.30,386.84C130.95,385.24 132.25,384.14 134.00,382.80C135.75,381.46 137.90,379.88 139.80,378.80C141.70,377.72 143.53,377.18 145.40,376.30C147.27,375.42 149.13,374.55 151.00,373.50C152.87,372.45 154.73,371.05 156.60,370.00C158.47,368.95 160.33,368.13 162.20,367.20C164.07,366.27 165.67,365.58 167.80,364.40C169.93,363.22 172.92,361.36 175.00,360.10C177.08,358.84 178.43,358.22 180.30,356.82C182.17,355.42 184.28,352.97 186.20,351.70C188.12,350.43 189.93,350.03 191.80,349.20C193.67,348.37 195.53,347.63 197.40,346.70C199.27,345.77 201.13,344.57 203.00,343.60C204.87,342.63 206.73,341.74 208.60,340.89C210.47,340.04 212.30,339.47 214.20,338.50C216.10,337.53 218.10,336.32 220.00,335.07C221.90,333.82 223.73,332.27 225.60,331.00C227.47,329.73 229.33,328.39 231.20,327.42C233.07,326.45 234.93,325.85 236.80,325.20C238.67,324.55 240.53,323.97 242.40,323.50C244.27,323.03 246.13,322.70 248.00,322.40C249.87,322.10 251.73,321.82 253.60,321.70C255.47,321.58 257.33,321.47 259.20,321.70C261.07,321.93 262.92,322.35 264.80,323.10C266.68,323.85 268.80,325.13 270.50,326.18C272.20,327.23 273.68,328.16 275.00,329.40C276.32,330.64 277.28,332.20 278.40,333.60C279.52,335.00 280.58,336.42 281.70,337.80C282.82,339.18 284.10,340.70 285.10,341.88C286.10,343.06 286.68,343.35 287.70,344.90C288.72,346.45 289.92,349.33 291.20,351.20C292.48,353.07 293.77,354.47 295.40,356.10C297.03,357.73 299.32,359.41 301.00,361.00C302.68,362.59 304.13,363.97 305.50,365.62C306.87,367.27 307.88,368.97 309.20,370.90C310.52,372.83 312.00,375.22 313.40,377.20C314.80,379.18 315.97,381.17 317.60,382.80C319.23,384.43 321.33,385.72 323.20,387.00C325.07,388.28 327.17,389.45 328.80,390.50C330.43,391.55 331.37,391.90 333.00,393.30C334.63,394.70 336.97,397.38 338.60,398.90C340.23,400.42 341.28,401.12 342.80,402.40C344.32,403.68 346.50,405.67 347.70,406.60C348.90,407.53 349.62,407.77 350.00,408.00" fill="none" stroke="#ff0000" stroke-width="2.2" stroke-linejoin="round" stroke-linecap="round"/>
<path d="M62.00,462.50C62.23,462.18 62.78,461.87 63.40,460.60C64.02,459.33 64.93,456.82 65.70,454.90C66.47,452.98 67.23,451.02 68.00,449.10C68.77,447.18 69.62,444.92 70.30,443.40C70.98,441.88 71.47,441.50 72.10,440.00C72.73,438.50 73.45,436.27 74.10,434.40C74.75,432.53 75.33,430.60 76.00,428.80C76.67,427.00 77.40,425.23 78.10,423.60C78.80,421.97 79.53,420.50 80.20,419.00C80.87,417.50 81.45,416.08 82.10,414.60C82.75,413.12 83.45,411.60 84.10,410.10C84.75,408.60 85.35,407.10 86.00,405.60C86.65,404.10 87.47,402.20 88.00,401.10C88.53,400.00 88.68,400.08 89.20,399.00C89.72,397.92 90.43,395.93 91.10,394.60C91.77,393.27 92.45,392.35 93.20,391.00C93.95,389.65 94.83,388.00 95.60,386.50C96.37,385.00 97.05,383.50 97.80,382.00C98.55,380.50 99.35,378.90 100.10,377.50C100.85,376.10 101.55,374.82 102.30,373.60C103.05,372.38 103.95,371.13 104.60,370.20C105.25,369.27 105.72,368.52 106.20,368.00C106.68,367.48 106.78,367.67 107.50,367.10C108.22,366.53 109.52,365.45 110.50,364.60C111.48,363.75 112.42,362.88 113.40,362.00C114.38,361.12 115.20,360.37 116.40,359.30C117.60,358.23 118.97,356.98 120.60,355.60C122.23,354.22 124.33,352.40 126.20,351.00C128.07,349.60 129.93,348.45 131.80,347.20C133.67,345.95 135.53,344.67 137.40,343.50C139.27,342.33 141.13,341.25 143.00,340.20C144.87,339.15 146.73,338.25 148.60,337.20C150.47,336.15 152.30,334.75 154.20,333.90C156.10,333.05 158.10,332.87 160.00,332.10C161.90,331.33 163.73,330.00 165.60,329.30C167.47,328.60 169.33,328.30 171.20,327.90C173.07,327.50 174.93,327.15 176.80,326.90C178.67,326.65 180.53,326.60 182.40,326.38C184.27,326.16 186.13,326.08 188.00,325.60C189.87,325.12 191.73,324.32 193.60,323.50C195.47,322.68 197.33,321.75 199.20,320.70C201.07,319.65 203.00,318.37 204.80,317.20C206.60,316.03 208.38,314.57 210.00,313.70C211.62,312.83 213.00,312.48 214.50,312.00C216.00,311.52 217.52,311.18 219.00,310.80C220.48,310.42 221.92,310.08 223.40,309.70C224.88,309.32 226.40,308.83 227.90,308.50C229.40,308.17 230.90,308.04 232.40,307.71C233.90,307.38 235.40,306.89 236.90,306.49C238.40,306.09 239.90,305.70 241.40,305.30C242.90,304.90 244.47,304.43 245.90,304.10C247.33,303.77 248.72,303.53 250.00,303.30C251.28,303.07 252.07,302.92 253.60,302.70C255.13,302.48 257.33,301.98 259.20,302.00C261.07,302.02 262.95,302.37 264.80,302.80C266.65,303.23 268.60,303.72 270.30,304.57C272.00,305.42 273.65,307.13 275.00,307.90C276.35,308.67 277.28,308.70 278.40,309.20C279.52,309.70 280.58,310.20 281.70,310.90C282.82,311.60 283.98,312.42 285.10,313.40C286.22,314.38 287.28,315.56 288.40,316.80C289.52,318.04 290.67,319.58 291.80,320.81C292.93,322.04 294.08,322.96 295.20,324.19C296.32,325.42 297.38,326.98 298.50,328.20C299.62,329.42 300.92,330.60 301.90,331.50C302.88,332.40 303.38,332.68 304.40,333.60C305.42,334.52 306.70,335.73 308.00,337.00C309.30,338.27 310.95,339.82 312.20,341.20C313.45,342.58 314.37,343.70 315.50,345.30C316.63,346.90 317.72,348.78 319.00,350.80C320.28,352.82 321.80,355.48 323.20,357.45C324.60,359.42 325.77,360.61 327.40,362.60C329.03,364.59 331.13,367.57 333.00,369.40C334.87,371.23 336.73,372.09 338.60,373.60C340.47,375.11 342.47,376.99 344.20,378.47C345.93,379.95 348.20,381.83 349.00,382.50" fill="none" stroke="#00ff00" stroke-width="2.2" stroke-linejoin="round" stroke-linecap="round"/>
<path d="M62.00,491.00C62.23,490.68 62.88,490.55 63.40,489.10C63.92,487.65 64.52,484.77 65.10,482.30C65.68,479.83 66.23,477.17 66.90,474.30C67.57,471.43 68.35,468.15 69.10,465.10C69.85,462.05 70.73,458.67 71.40,456.00C72.07,453.33 72.63,451.10 73.10,449.10C73.57,447.10 73.90,445.52 74.20,444.00C74.50,442.48 74.45,441.60 74.90,440.00C75.35,438.40 76.25,436.27 76.90,434.40C77.55,432.53 78.22,430.53 78.80,428.80C79.38,427.07 79.80,425.63 80.40,424.00C81.00,422.37 81.72,420.60 82.40,419.00C83.08,417.40 83.82,415.93 84.50,414.40C85.18,412.87 85.82,411.33 86.50,409.80C87.18,408.27 87.92,406.73 88.60,405.20C89.28,403.67 89.83,402.27 90.60,400.60C91.37,398.93 92.37,396.72 93.20,395.20C94.03,393.68 94.83,392.95 95.60,391.50C96.37,390.05 97.05,388.08 97.80,386.50C98.55,384.92 99.35,383.50 100.10,382.00C100.85,380.50 101.55,378.90 102.30,377.50C103.05,376.10 103.85,374.82 104.60,373.60C105.35,372.38 106.15,371.13 106.80,370.20C107.45,369.27 107.88,368.77 108.50,368.00C109.12,367.23 109.68,366.50 110.50,365.60C111.32,364.70 112.42,363.58 113.40,362.60C114.38,361.62 115.25,360.93 116.40,359.70C117.55,358.47 118.67,356.93 120.30,355.20C121.93,353.47 124.28,350.87 126.20,349.30C128.12,347.73 129.93,346.97 131.80,345.80C133.67,344.63 135.53,343.35 137.40,342.30C139.27,341.25 141.13,340.32 143.00,339.50C144.87,338.68 146.73,338.22 148.60,337.40C150.47,336.58 152.30,335.67 154.20,334.60C156.10,333.53 158.10,332.12 160.00,331.00C161.90,329.88 163.73,328.82 165.60,327.90C167.47,326.98 169.33,326.03 171.20,325.50C173.07,324.97 174.93,324.85 176.80,324.70C178.67,324.55 180.53,324.62 182.40,324.60C184.27,324.58 186.13,324.78 188.00,324.60C189.87,324.42 191.73,324.03 193.60,323.50C195.47,322.97 197.33,322.10 199.20,321.40C201.07,320.70 203.00,320.00 204.80,319.30C206.60,318.60 208.38,317.70 210.00,317.20C211.62,316.70 213.00,316.57 214.50,316.30C216.00,316.03 217.52,315.88 219.00,315.60C220.48,315.32 221.92,315.05 223.40,314.60C224.88,314.15 226.40,313.37 227.90,312.90C229.40,312.43 230.90,312.08 232.40,311.80C233.90,311.52 235.40,311.38 236.90,311.20C238.40,311.02 239.90,310.93 241.40,310.70C242.90,310.47 244.47,310.08 245.90,309.80C247.33,309.52 248.72,309.20 250.00,309.00C251.28,308.80 252.07,308.83 253.60,308.60C255.13,308.37 257.33,307.65 259.20,307.60C261.07,307.55 262.95,307.86 264.80,308.30C266.65,308.75 268.60,309.49 270.30,310.27C272.00,311.05 273.65,312.26 275.00,313.00C276.35,313.74 277.28,314.00 278.40,314.70C279.52,315.40 280.58,316.30 281.70,317.20C282.82,318.10 283.98,319.05 285.10,320.10C286.22,321.15 287.28,322.30 288.40,323.50C289.52,324.70 290.67,325.97 291.80,327.30C292.93,328.63 294.08,330.10 295.20,331.50C296.32,332.90 297.38,334.23 298.50,335.70C299.62,337.17 300.90,338.75 301.90,340.30C302.90,341.85 303.40,343.05 304.50,345.00C305.60,346.95 307.17,349.92 308.50,352.00C309.83,354.08 311.18,355.87 312.50,357.50C313.82,359.13 315.05,360.42 316.40,361.80C317.75,363.18 319.20,364.47 320.60,365.80C322.00,367.13 323.43,368.48 324.80,369.80C326.17,371.12 327.43,372.23 328.80,373.70C330.17,375.17 331.37,376.97 333.00,378.60C334.63,380.23 336.73,382.10 338.60,383.50C340.47,384.90 342.47,386.00 344.20,387.00C345.93,388.00 348.20,389.08 349.00,389.50" fill="none" stroke="#0000ff" stroke-width="2.2" stroke-linejoin="round" stroke-linecap="round"/>
<polygon points="72.53,491.20 73.39,493.43 75.77,493.55 73.91,495.05 74.53,497.35 72.53,496.05 70.54,497.35 71.16,495.05 69.30,493.55 71.68,493.43" fill="#ff0000"/>
<polygon points="82.07,440.60 82.92,442.83 85.30,442.95 83.45,444.45 84.07,446.75 82.07,445.45 80.07,446.75 80.69,444.45 78.84,442.95 81.22,442.83" fill="#ff0000"/>
<polygon points="91.61,413.80 92.46,416.03 94.84,416.15 92.98,417.65 93.60,419.95 91.61,418.65 89.61,419.95 90.23,417.65 88.37,416.15 90.75,416.03" fill="#ff0000"/>
<polygon points="101.14,400.50 101.99,402.73 104.37,402.85 102.52,404.35 103.14,406.65 101.14,405.35 99.14,406.65 99.76,404.35 97.91,402.85 100.29,402.73" fill="#ff0000"/>
<polygon points="110.67,390.70 111.53,392.93 113.91,393.05 112.05,394.55 112.67,396.85 110.67,395.55 108.68,396.85 109.30,394.55 107.44,393.05 109.82,392.93" fill="#ff0000"/>
<polygon points="120.21,383.40 121.06,385.63 123.44,385.75 121.59,387.25 122.21,389.55 120.21,388.25 118.21,389.55 118.83,387.25 116.98,385.75 119.36,385.63" fill="#ff0000"/>
<polygon points="129.75,377.70 130.60,379.93 132.98,380.05 131.12,381.55 131.74,383.85 129.75,382.55 127.75,383.85 128.37,381.55 126.51,380.05 128.89,379.93" fill="#ff0000"/>
<polygon points="139.28,372.20 140.13,374.43 142.51,374.55 140.66,376.05 141.28,378.35 139.28,377.05 137.28,378.35 137.90,376.05 136.05,374.55 138.43,374.43" fill="#ff0000"/>
<polygon points="148.81,367.40 149.67,369.63 152.05,369.75 150.19,371.25 150.81,373.55 148.81,372.25 146.82,373.55 147.44,371.25 145.58,369.75 147.96,369.63" fill="#ff0000"/>
<polygon points="158.35,362.80 159.20,365.03 161.58,365.15 159.73,366.65 160.35,368.95 158.35,367.65 156.35,368.95 156.97,366.65 155.12,365.15 157.50,365.03" fill="#ff0000"/>
<polygon points="167.88,358.60 168.74,360.83 171.12,360.95 169.26,362.45 169.88,364.75 167.88,363.45 165.89,364.75 166.51,362.45 164.65,360.95 167.03,360.83" fill="#ff0000"/>
<polygon points="177.42,353.80 178.27,356.03 180.65,356.15 178.80,357.65 179.42,359.95 177.42,358.65 175.42,359.95 176.04,357.65 174.19,356.15 176.57,356.03" fill="#ff0000"/>
<polygon points="186.95,349.60 187.81,351.83 190.19,351.95 188.33,353.45 188.95,355.75 186.95,354.45 184.96,355.75 185.58,353.45 183.72,351.95 186.10,351.83" fill="#ff0000"/>
<polygon points="196.49,345.40 197.34,347.63 199.72,347.75 197.87,349.25 198.49,351.55 196.49,350.25 194.49,351.55 195.11,349.25 193.26,347.75 195.64,347.63" fill="#ff0000"/>
<polygon points="206.02,340.80 206.88,343.03 209.26,343.15 207.40,344.65 208.02,346.95 206.02,345.65 204.03,346.95 204.65,344.65 202.79,343.15 205.17,343.03" fill="#ff0000"/>
<polygon points="215.56,334.90 216.41,337.13 218.79,337.25 216.94,338.75 217.56,341.05 215.56,339.75 213.56,341.05 214.18,338.75 212.33,337.25 214.71,337.13" fill="#ff0000"/>
<polygon points="225.09,328.10 225.95,330.33 228.33,330.45 226.47,331.95 227.09,334.25 225.09,332.95 223.10,334.25 223.72,331.95 221.86,330.45 224.24,330.33" fill="#ff0000"/>
<polygon points="234.63,321.10 235.48,323.33 237.86,323.45 236.01,324.95 236.63,327.25 234.63,325.95 232.63,327.25 233.25,324.95 231.40,323.45 233.78,323.33" fill="#ff0000"/>
<polygon points="244.16,315.80 245.02,318.03 247.40,318.15 245.54,319.65 246.16,321.95 244.16,320.65 242.17,321.95 242.79,319.65 240.93,318.15 243.31,318.03" fill="#ff0000"/>
<polygon points="253.70,311.60 254.55,313.83 256.93,313.95 255.08,315.45 255.70,317.75 253.70,316.45 251.70,317.75 252.32,315.45 250.47,313.95 252.85,313.83" fill="#ff0000"/>
<polygon points="263.24,310.50 264.09,312.73 266.47,312.85 264.61,314.35 265.23,316.65 263.24,315.35 261.24,316.65 261.86,314.35 260.00,312.85 262.38,312.73" fill="#ff0000"/>
<polygon points="272.77,315.60 273.62,317.83 276.00,317.95 274.15,319.45 274.77,321.75 272.77,320.45 270.77,321.75 271.39,319.45 269.54,317.95 271.92,317.83" fill="#ff0000"/>
<polygon points="282.31,325.00 283.16,327.23 285.54,327.35 283.68,328.85 284.30,331.15 282.31,329.85 280.31,331.15 280.93,328.85 279.07,327.35 281.45,327.23" fill="#ff0000"/>
<polygon points="291.84,335.50 292.69,337.73 295.07,337.85 293.22,339.35 293.84,341.65 291.84,340.35 289.84,341.65 290.46,339.35 288.61,337.85 290.99,337.73" fill="#ff0000"/>
<polygon points="301.38,343.50 302.23,345.73 304.61,345.85 302.75,347.35 303.37,349.65 301.38,348.35 299.38,349.65 300.00,347.35 298.14,345.85 300.52,345.73" fill="#ff0000"/>
<polygon points="310.91,351.10 311.76,353.33 314.14,353.45 312.29,354.95 312.91,357.25 310.91,355.95 308.91,357.25 309.53,354.95 307.68,353.45 310.06,353.33" fill="#ff0000"/>
<path d="M69.63,482.30L75.44,482.30M70.48,480.25L74.59,484.35M72.53,479.40L72.53,485.20M74.59,480.25L70.48,484.35" stroke="#33ff33" stroke-width="0.8" fill="none"/><circle cx="72.53" cy="482.30" r="1.5" fill="#33ff33"/>
<path d="M79.17,423.60L84.97,423.60M80.02,421.55L84.12,425.65M82.07,420.70L82.07,426.50M84.12,421.55L80.02,425.65" stroke="#33ff33" stroke-width="0.8" fill="none"/><circle cx="82.07" cy="423.60" r="1.5" fill="#33ff33"/>
<path d="M88.70,393.90L94.51,393.90M89.55,391.85L93.66,395.95M91.61,391.00L91.61,396.80M93.66,391.85L89.55,395.95" stroke="#33ff33" stroke-width="0.8" fill="none"/><circle cx="91.61" cy="393.90" r="1.5" fill="#33ff33"/>
<path d="M98.24,382.30L104.04,382.30M99.09,380.25L103.19,384.35M101.14,379.40L101.14,385.20M103.19,380.25L99.09,384.35" stroke="#33ff33" stroke-width="0.8" fill="none"/><circle cx="101.14" cy="382.30" r="1.5" fill="#33ff33"/>
<path d="M107.77,371.00L113.58,371.00M108.62,368.95L112.73,373.05M110.67,368.10L110.67,373.90M112.73,368.95L108.62,373.05" stroke="#33ff33" stroke-width="0.8" fill="none"/><circle cx="110.67" cy="371.00" r="1.5" fill="#33ff33"/>
<path d="M117.31,362.60L123.11,362.60M118.16,360.55L122.26,364.65M120.21,359.70L120.21,365.50M122.26,360.55L118.16,364.65" stroke="#33ff33" stroke-width="0.8" fill="none"/><circle cx="120.21" cy="362.60" r="1.5" fill="#33ff33"/>
<path d="M126.84,356.70L132.65,356.70M127.69,354.65L131.80,358.75M129.75,353.80L129.75,359.60M131.80,354.65L127.69,358.75" stroke="#33ff33" stroke-width="0.8" fill="none"/><circle cx="129.75" cy="356.70" r="1.5" fill="#33ff33"/>
<path d="M136.38,352.10L142.18,352.10M137.23,350.05L141.33,354.15M139.28,349.20L139.28,355.00M141.33,350.05L137.23,354.15" stroke="#33ff33" stroke-width="0.8" fill="none"/><circle cx="139.28" cy="352.10" r="1.5" fill="#33ff33"/>
<path d="M145.91,347.50L151.72,347.50M146.76,345.45L150.87,349.55M148.81,344.60L148.81,350.40M150.87,345.45L146.76,349.55" stroke="#33ff33" stroke-width="0.8" fill="none"/><circle cx="148.81" cy="347.50" r="1.5" fill="#33ff33"/>
<path d="M155.45,343.00L161.25,343.00M156.30,340.95L160.40,345.05M158.35,340.10L158.35,345.90M160.40,340.95L156.30,345.05" stroke="#33ff33" stroke-width="0.8" fill="none"/><circle cx="158.35" cy="343.00" r="1.5" fill="#33ff33"/>
<path d="M164.98,339.50L170.78,339.50M165.83,337.45L169.94,341.55M167.88,336.60L167.88,342.40M169.94,337.45L165.83,341.55" stroke="#33ff33" stroke-width="0.8" fill="none"/><circle cx="167.88" cy="339.50" r="1.5" fill="#33ff33"/>
<path d="M174.52,335.30L180.32,335.30M175.37,333.25L179.47,337.35M177.42,332.40L177.42,338.20M179.47,333.25L175.37,337.35" stroke="#33ff33" stroke-width="0.8" fill="none"/><circle cx="177.42" cy="335.30" r="1.5" fill="#33ff33"/>
<path d="M184.05,331.70L189.85,331.70M184.90,329.65L189.01,333.75M186.95,328.80L186.95,334.60M189.01,329.65L184.90,333.75" stroke="#33ff33" stroke-width="0.8" fill="none"/><circle cx="186.95" cy="331.70" r="1.5" fill="#33ff33"/>
<path d="M193.59,327.50L199.39,327.50M194.44,325.45L198.54,329.55M196.49,324.60L196.49,330.40M198.54,325.45L194.44,329.55" stroke="#33ff33" stroke-width="0.8" fill="none"/><circle cx="196.49" cy="327.50" r="1.5" fill="#33ff33"/>
<path d="M203.12,323.00L208.92,323.00M203.97,320.95L208.08,325.05M206.02,320.10L206.02,325.90M208.08,320.95L203.97,325.05" stroke="#33ff33" stroke-width="0.8" fill="none"/><circle cx="206.02" cy="323.00" r="1.5" fill="#33ff33"/>
<path d="M212.66,318.50L218.46,318.50M213.51,316.45L217.61,320.55M215.56,315.60L215.56,321.40M217.61,316.45L213.51,320.55" stroke="#33ff33" stroke-width="0.8" fill="none"/><circle cx="215.56" cy="318.50" r="1.5" fill="#33ff33"/>
<path d="M222.19,310.50L228.00,310.50M223.04,308.45L227.15,312.55M225.09,307.60L225.09,313.40M227.15,308.45L223.04,312.55" stroke="#33ff33" stroke-width="0.8" fill="none"/><circle cx="225.09" cy="310.50" r="1.5" fill="#33ff33"/>
<path d="M231.73,304.30L237.53,304.30M232.58,302.25L236.68,306.35M234.63,301.40L234.63,307.20M236.68,302.25L232.58,306.35" stroke="#33ff33" stroke-width="0.8" fill="none"/><circle cx="234.63" cy="304.30" r="1.5" fill="#33ff33"/>
<path d="M241.26,300.60L247.06,300.60M242.11,298.55L246.22,302.65M244.16,297.70L244.16,303.50M246.22,298.55L242.11,302.65" stroke="#33ff33" stroke-width="0.8" fill="none"/><circle cx="244.16" cy="300.60" r="1.5" fill="#33ff33"/>
<path d="M250.80,298.50L256.60,298.50M251.65,296.45L255.75,300.55M253.70,295.60L253.70,301.40M255.75,296.45L251.65,300.55" stroke="#33ff33" stroke-width="0.8" fill="none"/><circle cx="253.70" cy="298.50" r="1.5" fill="#33ff33"/>
<path d="M260.34,299.00L266.13,299.00M261.18,296.95L265.29,301.05M263.24,296.10L263.24,301.90M265.29,296.95L261.18,301.05" stroke="#33ff33" stroke-width="0.8" fill="none"/><circle cx="263.24" cy="299.00" r="1.5" fill="#33ff33"/>
<path d="M269.87,303.00L275.67,303.00M270.72,300.95L274.82,305.05M272.77,300.10L272.77,305.90M274.82,300.95L270.72,305.05" stroke="#33ff33" stroke-width="0.8" fill="none"/><circle cx="272.77" cy="303.00" r="1.5" fill="#33ff33"/>
<path d="M279.41,312.00L285.20,312.00M280.25,309.95L284.36,314.05M282.31,309.10L282.31,314.90M284.36,309.95L280.25,314.05" stroke="#33ff33" stroke-width="0.8" fill="none"/><circle cx="282.31" cy="312.00" r="1.5" fill="#33ff33"/>
<path d="M288.94,324.00L294.74,324.00M289.79,321.95L293.89,326.05M291.84,321.10L291.84,326.90M293.89,321.95L289.79,326.05" stroke="#33ff33" stroke-width="0.8" fill="none"/><circle cx="291.84" cy="324.00" r="1.5" fill="#33ff33"/>
<path d="M298.48,334.00L304.27,334.00M299.32,331.95L303.43,336.05M301.38,331.10L301.38,336.90M303.43,331.95L299.32,336.05" stroke="#33ff33" stroke-width="0.8" fill="none"/><circle cx="301.38" cy="334.00" r="1.5" fill="#33ff33"/>
<path d="M308.01,344.50L313.81,344.50M308.86,342.45L312.96,346.55M310.91,341.60L310.91,347.40M312.96,342.45L308.86,346.55" stroke="#33ff33" stroke-width="0.8" fill="none"/><circle cx="310.91" cy="344.50" r="1.5" fill="#33ff33"/>
<polygon points="72.53,473.75 73.27,475.59 75.25,475.72 73.72,476.99 74.21,478.91 72.53,477.85 70.86,478.91 71.35,476.99 69.82,475.72 71.80,475.59" fill="none" stroke="#3333ff" stroke-width="1.0" stroke-linejoin="miter"/>
<polygon points="82.07,409.85 82.80,411.69 84.78,411.82 83.26,413.09 83.75,415.01 82.07,413.95 80.39,415.01 80.88,413.09 79.36,411.82 81.34,411.69" fill="none" stroke="#3333ff" stroke-width="1.0" stroke-linejoin="miter"/>
<polygon points="91.61,381.15 92.34,382.99 94.32,383.12 92.79,384.39 93.28,386.31 91.61,385.25 89.93,386.31 90.42,384.39 88.89,383.12 90.87,382.99" fill="none" stroke="#3333ff" stroke-width="1.0" stroke-linejoin="miter"/>
<polygon points="101.14,366.95 101.87,368.79 103.85,368.92 102.33,370.19 102.82,372.11 101.14,371.05 99.46,372.11 99.95,370.19 98.43,368.92 100.41,368.79" fill="none" stroke="#3333ff" stroke-width="1.0" stroke-linejoin="miter"/>
<polygon points="110.67,357.15 111.41,358.99 113.39,359.12 111.86,360.39 112.35,362.31 110.67,361.25 109.00,362.31 109.49,360.39 107.96,359.12 109.94,358.99" fill="none" stroke="#3333ff" stroke-width="1.0" stroke-linejoin="miter"/>
<polygon points="120.21,349.25 120.94,351.09 122.92,351.22 121.40,352.49 121.89,354.41 120.21,353.35 118.53,354.41 119.02,352.49 117.50,351.22 119.48,351.09" fill="none" stroke="#3333ff" stroke-width="1.0" stroke-linejoin="miter"/>
<polygon points="129.75,343.25 130.48,345.09 132.46,345.22 130.93,346.49 131.42,348.41 129.75,347.35 128.07,348.41 128.56,346.49 127.03,345.22 129.01,345.09" fill="none" stroke="#3333ff" stroke-width="1.0" stroke-linejoin="miter"/>
<polygon points="139.28,338.35 140.01,340.19 141.99,340.32 140.47,341.59 140.96,343.51 139.28,342.45 137.60,343.51 138.09,341.59 136.57,340.32 138.55,340.19" fill="none" stroke="#3333ff" stroke-width="1.0" stroke-linejoin="miter"/>
<polygon points="148.81,334.15 149.55,335.99 151.53,336.12 150.00,337.39 150.49,339.31 148.81,338.25 147.14,339.31 147.63,337.39 146.10,336.12 148.08,335.99" fill="none" stroke="#3333ff" stroke-width="1.0" stroke-linejoin="miter"/>
<polygon points="158.35,330.65 159.08,332.49 161.06,332.62 159.54,333.89 160.03,335.81 158.35,334.75 156.67,335.81 157.16,333.89 155.64,332.62 157.62,332.49" fill="none" stroke="#3333ff" stroke-width="1.0" stroke-linejoin="miter"/>
<polygon points="167.88,329.15 168.62,330.99 170.60,331.12 169.07,332.39 169.56,334.31 167.88,333.25 166.21,334.31 166.70,332.39 165.17,331.12 167.15,330.99" fill="none" stroke="#3333ff" stroke-width="1.0" stroke-linejoin="miter"/>
<polygon points="177.42,325.35 178.15,327.19 180.13,327.32 178.61,328.59 179.10,330.51 177.42,329.45 175.74,330.51 176.23,328.59 174.71,327.32 176.69,327.19" fill="none" stroke="#3333ff" stroke-width="1.0" stroke-linejoin="miter"/>
<polygon points="186.95,320.45 187.69,322.29 189.67,322.42 188.14,323.69 188.63,325.61 186.95,324.55 185.28,325.61 185.77,323.69 184.24,322.42 186.22,322.29" fill="none" stroke="#3333ff" stroke-width="1.0" stroke-linejoin="miter"/>
<polygon points="196.49,317.35 197.22,319.19 199.20,319.32 197.68,320.59 198.17,322.51 196.49,321.45 194.81,322.51 195.30,320.59 193.78,319.32 195.76,319.19" fill="none" stroke="#3333ff" stroke-width="1.0" stroke-linejoin="miter"/>
<polygon points="206.02,313.45 206.76,315.29 208.74,315.42 207.21,316.69 207.70,318.61 206.02,317.55 204.35,318.61 204.84,316.69 203.31,315.42 205.29,315.29" fill="none" stroke="#3333ff" stroke-width="1.0" stroke-linejoin="miter"/>
<polygon points="215.56,310.95 216.29,312.79 218.27,312.92 216.75,314.19 217.24,316.11 215.56,315.05 213.88,316.11 214.37,314.19 212.85,312.92 214.83,312.79" fill="none" stroke="#3333ff" stroke-width="1.0" stroke-linejoin="miter"/>
<polygon points="225.09,303.85 225.83,305.69 227.81,305.82 226.28,307.09 226.77,309.01 225.09,307.95 223.42,309.01 223.91,307.09 222.38,305.82 224.36,305.69" fill="none" stroke="#3333ff" stroke-width="1.0" stroke-linejoin="miter"/>
<polygon points="234.63,298.55 235.36,300.39 237.34,300.52 235.82,301.79 236.31,303.71 234.63,302.65 232.95,303.71 233.44,301.79 231.92,300.52 233.90,300.39" fill="none" stroke="#3333ff" stroke-width="1.0" stroke-linejoin="miter"/>
<polygon points="244.16,294.45 244.90,296.29 246.88,296.42 245.35,297.69 245.84,299.61 244.16,298.55 242.49,299.61 242.98,297.69 241.45,296.42 243.43,296.29" fill="none" stroke="#3333ff" stroke-width="1.0" stroke-linejoin="miter"/>
<polygon points="253.70,291.15 254.43,292.99 256.41,293.12 254.89,294.39 255.38,296.31 253.70,295.25 252.02,296.31 252.51,294.39 250.99,293.12 252.97,292.99" fill="none" stroke="#3333ff" stroke-width="1.0" stroke-linejoin="miter"/>
<polygon points="263.24,291.15 263.97,292.99 265.95,293.12 264.42,294.39 264.91,296.31 263.24,295.25 261.56,296.31 262.05,294.39 260.52,293.12 262.50,292.99" fill="none" stroke="#3333ff" stroke-width="1.0" stroke-linejoin="miter"/>
<polygon points="272.77,298.35 273.50,300.19 275.48,300.32 273.96,301.59 274.45,303.51 272.77,302.45 271.09,303.51 271.58,301.59 270.06,300.32 272.04,300.19" fill="none" stroke="#3333ff" stroke-width="1.0" stroke-linejoin="miter"/>
<polygon points="282.31,310.75 283.04,312.59 285.02,312.72 283.49,313.99 283.98,315.91 282.31,314.85 280.63,315.91 281.12,313.99 279.59,312.72 281.57,312.59" fill="none" stroke="#3333ff" stroke-width="1.0" stroke-linejoin="miter"/>
<polygon points="291.84,322.85 292.57,324.69 294.55,324.82 293.03,326.09 293.52,328.01 291.84,326.95 290.16,328.01 290.65,326.09 289.13,324.82 291.11,324.69" fill="none" stroke="#3333ff" stroke-width="1.0" stroke-linejoin="miter"/>
<polygon points="301.38,334.85 302.11,336.69 304.09,336.82 302.56,338.09 303.05,340.01 301.38,338.95 299.70,340.01 300.19,338.09 298.66,336.82 300.64,336.69" fill="none" stroke="#3333ff" stroke-width="1.0" stroke-linejoin="miter"/>
<polygon points="310.91,346.75 311.64,348.59 313.62,348.72 312.10,349.99 312.59,351.91 310.91,350.85 309.23,351.91 309.72,349.99 308.20,348.72 310.18,348.59" fill="none" stroke="#3333ff" stroke-width="1.0" stroke-linejoin="miter"/>
</g>
<text x="56.6" y="332.8" text-anchor="end" class="sa" font-size="13.6">200</text>
<text x="56.6" y="405.7" text-anchor="end" class="sa" font-size="13.6">150</text>
<text x="56.6" y="478.6" text-anchor="end" class="sa" font-size="13.6">100</text>
<text x="63.0" y="518.0" text-anchor="middle" class="se" font-size="13">0.0</text>
<text x="158.3" y="518.0" text-anchor="middle" class="se" font-size="13">0.5</text>
<text x="253.7" y="518.0" text-anchor="middle" class="se" font-size="13">1.0</text>
<text x="349.0" y="518.0" text-anchor="middle" class="se" font-size="13">1.5</text>
<text x="170.3" y="539.6" class="sa" font-size="17.4">Time (ns)</text>
<text transform="translate(19.4,399.9) rotate(-90)" text-anchor="middle" class="sa" font-size="17.4">Tr (ev)</text>
<text x="1.5" y="293.8" class="se" font-size="16">(b)</text>
<text x="70.3" y="299.7" class="se" font-size="13.3">Au hohlraum</text>
<polygon points="172.80,387.40 173.65,389.63 176.03,389.75 174.18,391.25 174.80,393.55 172.80,392.25 170.80,393.55 171.42,391.25 169.57,389.75 171.95,389.63" fill="#ff0000"/>
<text x="190.8" y="394.8" class="se" font-size="13.35">simulated Tr/20<tspan font-size="8" dy="-7.4">o</tspan></text>
<path d="M169.90,409.85L175.70,409.85M170.75,407.80L174.85,411.90M172.80,406.95L172.80,412.75M174.85,407.80L170.75,411.90" stroke="#33ff33" stroke-width="0.8" fill="none"/><circle cx="172.80" cy="409.85" r="1.5" fill="#33ff33"/>
<text x="190.8" y="414.2" class="se" font-size="13.35">simulated Tr/30<tspan font-size="8" dy="-7.4">o</tspan></text>
<polygon points="172.80,426.65 173.53,428.49 175.51,428.62 173.99,429.89 174.48,431.81 172.80,430.75 171.12,431.81 171.61,429.89 170.09,428.62 172.07,428.49" fill="none" stroke="#3333ff" stroke-width="1.0" stroke-linejoin="miter"/>
<text x="190.8" y="433.7" class="se" font-size="13.35">simulated Tr/45<tspan font-size="8" dy="-7.4">o</tspan></text>
<path d="M158.1,448.9H187.6" stroke="#ff0000" stroke-width="2.2" stroke-linecap="round"/>
<text x="190.8" y="453.1" class="se" font-size="13.35">measured Tr/20<tspan font-size="8" dy="-7.4">o</tspan></text>
<path d="M158.1,468.3H187.6" stroke="#00ff00" stroke-width="2.2" stroke-linecap="round"/>
<text x="190.8" y="472.6" class="se" font-size="13.35">measured Tr/30<tspan font-size="8" dy="-7.4">o</tspan></text>
<path d="M158.1,487.8H187.6" stroke="#0000ff" stroke-width="2.2" stroke-linecap="round"/>
<text x="190.8" y="492.1" class="se" font-size="13.35">measured Tr/45<tspan font-size="8" dy="-7.4">o</tspan></text>
</svg>
</body></html>
